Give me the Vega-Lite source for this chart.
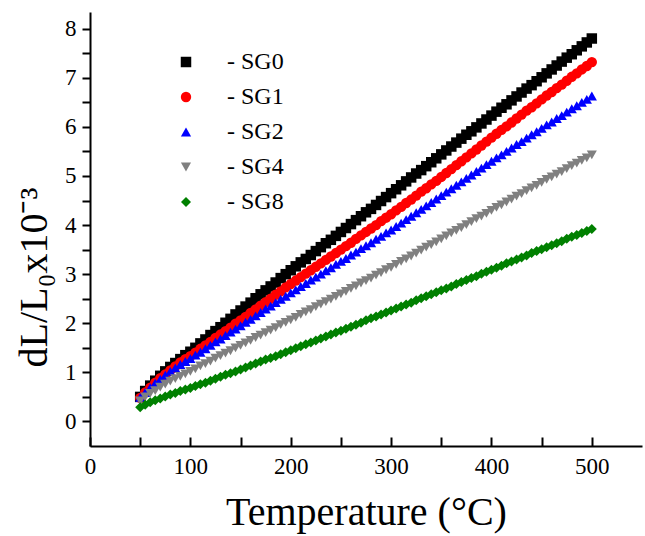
{
  "$schema": "https://vega.github.io/schema/vega-lite/v6.json",
  "width": 552,
  "height": 434,
  "autosize": "none",
  "padding": {"left": 90, "top": 12, "right": 3, "bottom": 90},
  "background": "white",
  "config": {
    "font": "Times New Roman",
    "view": {"stroke": null},
    "axis": {
      "labelFont": "Times New Roman",
      "titleFont": "Times New Roman",
      "labelColor": "black",
      "titleColor": "black",
      "domainColor": "black",
      "tickColor": "black",
      "labelFontSize": 23,
      "titleFontSize": 40,
      "titleFontWeight": "normal",
      "domainWidth": 2,
      "tickWidth": 2,
      "grid": false
    },
    "legend": {"labelFont": "Times New Roman"}
  },
  "data": {
    "values": [
      {"series":"SG0","T":50,"v":0.50},{"series":"SG0","T":55,"v":0.62},{"series":"SG0","T":60,"v":0.73},{"series":"SG0","T":65,"v":0.83},{"series":"SG0","T":70,"v":0.93},{"series":"SG0","T":75,"v":1.02},{"series":"SG0","T":80,"v":1.11},{"series":"SG0","T":85,"v":1.19},{"series":"SG0","T":90,"v":1.27},{"series":"SG0","T":95,"v":1.35},{"series":"SG0","T":100,"v":1.42},
      {"series":"SG0","T":105,"v":1.50},{"series":"SG0","T":110,"v":1.59},{"series":"SG0","T":115,"v":1.67},{"series":"SG0","T":120,"v":1.76},{"series":"SG0","T":125,"v":1.84},{"series":"SG0","T":130,"v":1.92},{"series":"SG0","T":135,"v":2.01},{"series":"SG0","T":140,"v":2.09},{"series":"SG0","T":145,"v":2.18},{"series":"SG0","T":150,"v":2.26},
      {"series":"SG0","T":155,"v":2.34},{"series":"SG0","T":160,"v":2.42},{"series":"SG0","T":165,"v":2.51},{"series":"SG0","T":170,"v":2.59},{"series":"SG0","T":175,"v":2.67},{"series":"SG0","T":180,"v":2.75},{"series":"SG0","T":185,"v":2.83},{"series":"SG0","T":190,"v":2.92},{"series":"SG0","T":195,"v":3.00},{"series":"SG0","T":200,"v":3.08},
      {"series":"SG0","T":205,"v":3.16},{"series":"SG0","T":210,"v":3.24},{"series":"SG0","T":215,"v":3.31},{"series":"SG0","T":220,"v":3.39},{"series":"SG0","T":225,"v":3.47},{"series":"SG0","T":230,"v":3.55},{"series":"SG0","T":235,"v":3.63},{"series":"SG0","T":240,"v":3.70},{"series":"SG0","T":245,"v":3.78},{"series":"SG0","T":250,"v":3.86},
      {"series":"SG0","T":255,"v":3.94},{"series":"SG0","T":260,"v":4.02},{"series":"SG0","T":265,"v":4.10},{"series":"SG0","T":270,"v":4.18},{"series":"SG0","T":275,"v":4.26},{"series":"SG0","T":280,"v":4.33},{"series":"SG0","T":285,"v":4.41},{"series":"SG0","T":290,"v":4.49},{"series":"SG0","T":295,"v":4.57},{"series":"SG0","T":300,"v":4.65},
      {"series":"SG0","T":305,"v":4.73},{"series":"SG0","T":310,"v":4.81},{"series":"SG0","T":315,"v":4.89},{"series":"SG0","T":320,"v":4.97},{"series":"SG0","T":325,"v":5.05},{"series":"SG0","T":330,"v":5.12},{"series":"SG0","T":335,"v":5.20},{"series":"SG0","T":340,"v":5.28},{"series":"SG0","T":345,"v":5.36},{"series":"SG0","T":350,"v":5.44},
      {"series":"SG0","T":355,"v":5.52},{"series":"SG0","T":360,"v":5.60},{"series":"SG0","T":365,"v":5.68},{"series":"SG0","T":370,"v":5.76},{"series":"SG0","T":375,"v":5.84},{"series":"SG0","T":380,"v":5.91},{"series":"SG0","T":385,"v":5.99},{"series":"SG0","T":390,"v":6.07},{"series":"SG0","T":395,"v":6.15},{"series":"SG0","T":400,"v":6.23},
      {"series":"SG0","T":405,"v":6.31},{"series":"SG0","T":410,"v":6.39},{"series":"SG0","T":415,"v":6.46},{"series":"SG0","T":420,"v":6.54},{"series":"SG0","T":425,"v":6.62},{"series":"SG0","T":430,"v":6.70},{"series":"SG0","T":435,"v":6.78},{"series":"SG0","T":440,"v":6.85},{"series":"SG0","T":445,"v":6.93},{"series":"SG0","T":450,"v":7.01},
      {"series":"SG0","T":455,"v":7.09},{"series":"SG0","T":460,"v":7.17},{"series":"SG0","T":465,"v":7.25},{"series":"SG0","T":470,"v":7.33},{"series":"SG0","T":475,"v":7.41},{"series":"SG0","T":480,"v":7.48},{"series":"SG0","T":485,"v":7.56},{"series":"SG0","T":490,"v":7.64},{"series":"SG0","T":495,"v":7.72},{"series":"SG0","T":500,"v":7.80},

      {"series":"SG1","T":50,"v":0.48},{"series":"SG1","T":55,"v":0.59},{"series":"SG1","T":60,"v":0.69},{"series":"SG1","T":65,"v":0.79},{"series":"SG1","T":70,"v":0.88},{"series":"SG1","T":75,"v":0.96},{"series":"SG1","T":80,"v":1.04},{"series":"SG1","T":85,"v":1.12},{"series":"SG1","T":90,"v":1.20},{"series":"SG1","T":95,"v":1.27},{"series":"SG1","T":100,"v":1.33},
      {"series":"SG1","T":105,"v":1.40},{"series":"SG1","T":110,"v":1.48},{"series":"SG1","T":115,"v":1.55},{"series":"SG1","T":120,"v":1.62},{"series":"SG1","T":125,"v":1.70},{"series":"SG1","T":130,"v":1.77},{"series":"SG1","T":135,"v":1.84},{"series":"SG1","T":140,"v":1.91},{"series":"SG1","T":145,"v":1.99},{"series":"SG1","T":150,"v":2.06},
      {"series":"SG1","T":155,"v":2.13},{"series":"SG1","T":160,"v":2.21},{"series":"SG1","T":165,"v":2.28},{"series":"SG1","T":170,"v":2.36},{"series":"SG1","T":175,"v":2.43},{"series":"SG1","T":180,"v":2.50},{"series":"SG1","T":185,"v":2.58},{"series":"SG1","T":190,"v":2.65},{"series":"SG1","T":195,"v":2.73},{"series":"SG1","T":200,"v":2.80},
      {"series":"SG1","T":205,"v":2.87},{"series":"SG1","T":210,"v":2.94},{"series":"SG1","T":215,"v":3.01},{"series":"SG1","T":220,"v":3.08},{"series":"SG1","T":225,"v":3.15},{"series":"SG1","T":230,"v":3.22},{"series":"SG1","T":235,"v":3.29},{"series":"SG1","T":240,"v":3.36},{"series":"SG1","T":245,"v":3.43},{"series":"SG1","T":250,"v":3.50},
      {"series":"SG1","T":255,"v":3.57},{"series":"SG1","T":260,"v":3.64},{"series":"SG1","T":265,"v":3.72},{"series":"SG1","T":270,"v":3.79},{"series":"SG1","T":275,"v":3.86},{"series":"SG1","T":280,"v":3.93},{"series":"SG1","T":285,"v":4.00},{"series":"SG1","T":290,"v":4.08},{"series":"SG1","T":295,"v":4.15},{"series":"SG1","T":300,"v":4.22},
      {"series":"SG1","T":305,"v":4.30},{"series":"SG1","T":310,"v":4.37},{"series":"SG1","T":315,"v":4.45},{"series":"SG1","T":320,"v":4.52},{"series":"SG1","T":325,"v":4.60},{"series":"SG1","T":330,"v":4.68},{"series":"SG1","T":335,"v":4.75},{"series":"SG1","T":340,"v":4.83},{"series":"SG1","T":345,"v":4.90},{"series":"SG1","T":350,"v":4.98},
      {"series":"SG1","T":355,"v":5.06},{"series":"SG1","T":360,"v":5.14},{"series":"SG1","T":365,"v":5.22},{"series":"SG1","T":370,"v":5.30},{"series":"SG1","T":375,"v":5.38},{"series":"SG1","T":380,"v":5.46},{"series":"SG1","T":385,"v":5.54},{"series":"SG1","T":390,"v":5.62},{"series":"SG1","T":395,"v":5.70},{"series":"SG1","T":400,"v":5.78},
      {"series":"SG1","T":405,"v":5.86},{"series":"SG1","T":410,"v":5.94},{"series":"SG1","T":415,"v":6.01},{"series":"SG1","T":420,"v":6.09},{"series":"SG1","T":425,"v":6.17},{"series":"SG1","T":430,"v":6.25},{"series":"SG1","T":435,"v":6.33},{"series":"SG1","T":440,"v":6.40},{"series":"SG1","T":445,"v":6.48},{"series":"SG1","T":450,"v":6.56},
      {"series":"SG1","T":455,"v":6.64},{"series":"SG1","T":460,"v":6.71},{"series":"SG1","T":465,"v":6.79},{"series":"SG1","T":470,"v":6.86},{"series":"SG1","T":475,"v":6.94},{"series":"SG1","T":480,"v":7.02},{"series":"SG1","T":485,"v":7.09},{"series":"SG1","T":490,"v":7.17},{"series":"SG1","T":495,"v":7.24},{"series":"SG1","T":500,"v":7.32},

      {"series":"SG2","T":50,"v":0.49},{"series":"SG2","T":55,"v":0.59},{"series":"SG2","T":60,"v":0.69},{"series":"SG2","T":65,"v":0.78},{"series":"SG2","T":70,"v":0.86},{"series":"SG2","T":75,"v":0.94},{"series":"SG2","T":80,"v":1.02},{"series":"SG2","T":85,"v":1.09},{"series":"SG2","T":90,"v":1.16},{"series":"SG2","T":95,"v":1.22},{"series":"SG2","T":100,"v":1.28},
      {"series":"SG2","T":105,"v":1.35},{"series":"SG2","T":110,"v":1.41},{"series":"SG2","T":115,"v":1.48},{"series":"SG2","T":120,"v":1.55},{"series":"SG2","T":125,"v":1.62},{"series":"SG2","T":130,"v":1.68},{"series":"SG2","T":135,"v":1.75},{"series":"SG2","T":140,"v":1.82},{"series":"SG2","T":145,"v":1.88},{"series":"SG2","T":150,"v":1.95},
      {"series":"SG2","T":155,"v":2.02},{"series":"SG2","T":160,"v":2.08},{"series":"SG2","T":165,"v":2.15},{"series":"SG2","T":170,"v":2.22},{"series":"SG2","T":175,"v":2.29},{"series":"SG2","T":180,"v":2.35},{"series":"SG2","T":185,"v":2.42},{"series":"SG2","T":190,"v":2.49},{"series":"SG2","T":195,"v":2.55},{"series":"SG2","T":200,"v":2.62},
      {"series":"SG2","T":205,"v":2.68},{"series":"SG2","T":210,"v":2.75},{"series":"SG2","T":215,"v":2.81},{"series":"SG2","T":220,"v":2.88},{"series":"SG2","T":225,"v":2.94},{"series":"SG2","T":230,"v":3.00},{"series":"SG2","T":235,"v":3.07},{"series":"SG2","T":240,"v":3.13},{"series":"SG2","T":245,"v":3.20},{"series":"SG2","T":250,"v":3.26},
      {"series":"SG2","T":255,"v":3.32},{"series":"SG2","T":260,"v":3.39},{"series":"SG2","T":265,"v":3.45},{"series":"SG2","T":270,"v":3.52},{"series":"SG2","T":275,"v":3.58},{"series":"SG2","T":280,"v":3.64},{"series":"SG2","T":285,"v":3.71},{"series":"SG2","T":290,"v":3.77},{"series":"SG2","T":295,"v":3.84},{"series":"SG2","T":300,"v":3.90},
      {"series":"SG2","T":305,"v":3.97},{"series":"SG2","T":310,"v":4.04},{"series":"SG2","T":315,"v":4.11},{"series":"SG2","T":320,"v":4.18},{"series":"SG2","T":325,"v":4.25},{"series":"SG2","T":330,"v":4.32},{"series":"SG2","T":335,"v":4.39},{"series":"SG2","T":340,"v":4.46},{"series":"SG2","T":345,"v":4.53},{"series":"SG2","T":350,"v":4.60},
      {"series":"SG2","T":355,"v":4.67},{"series":"SG2","T":360,"v":4.74},{"series":"SG2","T":365,"v":4.81},{"series":"SG2","T":370,"v":4.88},{"series":"SG2","T":375,"v":4.95},{"series":"SG2","T":380,"v":5.02},{"series":"SG2","T":385,"v":5.09},{"series":"SG2","T":390,"v":5.16},{"series":"SG2","T":395,"v":5.23},{"series":"SG2","T":400,"v":5.30},
      {"series":"SG2","T":405,"v":5.37},{"series":"SG2","T":410,"v":5.43},{"series":"SG2","T":415,"v":5.50},{"series":"SG2","T":420,"v":5.57},{"series":"SG2","T":425,"v":5.64},{"series":"SG2","T":430,"v":5.70},{"series":"SG2","T":435,"v":5.77},{"series":"SG2","T":440,"v":5.84},{"series":"SG2","T":445,"v":5.90},{"series":"SG2","T":450,"v":5.97},
      {"series":"SG2","T":455,"v":6.04},{"series":"SG2","T":460,"v":6.10},{"series":"SG2","T":465,"v":6.17},{"series":"SG2","T":470,"v":6.23},{"series":"SG2","T":475,"v":6.30},{"series":"SG2","T":480,"v":6.37},{"series":"SG2","T":485,"v":6.43},{"series":"SG2","T":490,"v":6.50},{"series":"SG2","T":495,"v":6.56},{"series":"SG2","T":500,"v":6.63},

      {"series":"SG4","T":50,"v":0.42},{"series":"SG4","T":55,"v":0.50},{"series":"SG4","T":60,"v":0.57},{"series":"SG4","T":65,"v":0.63},{"series":"SG4","T":70,"v":0.70},{"series":"SG4","T":75,"v":0.76},{"series":"SG4","T":80,"v":0.82},{"series":"SG4","T":85,"v":0.87},{"series":"SG4","T":90,"v":0.92},{"series":"SG4","T":95,"v":0.97},{"series":"SG4","T":100,"v":1.02},
      {"series":"SG4","T":105,"v":1.07},{"series":"SG4","T":110,"v":1.13},{"series":"SG4","T":115,"v":1.18},{"series":"SG4","T":120,"v":1.23},{"series":"SG4","T":125,"v":1.29},{"series":"SG4","T":130,"v":1.34},{"series":"SG4","T":135,"v":1.39},{"series":"SG4","T":140,"v":1.44},{"series":"SG4","T":145,"v":1.50},{"series":"SG4","T":150,"v":1.55},
      {"series":"SG4","T":155,"v":1.60},{"series":"SG4","T":160,"v":1.65},{"series":"SG4","T":165,"v":1.71},{"series":"SG4","T":170,"v":1.76},{"series":"SG4","T":175,"v":1.81},{"series":"SG4","T":180,"v":1.86},{"series":"SG4","T":185,"v":1.91},{"series":"SG4","T":190,"v":1.97},{"series":"SG4","T":195,"v":2.02},{"series":"SG4","T":200,"v":2.07},
      {"series":"SG4","T":205,"v":2.12},{"series":"SG4","T":210,"v":2.18},{"series":"SG4","T":215,"v":2.23},{"series":"SG4","T":220,"v":2.28},{"series":"SG4","T":225,"v":2.34},{"series":"SG4","T":230,"v":2.39},{"series":"SG4","T":235,"v":2.44},{"series":"SG4","T":240,"v":2.49},{"series":"SG4","T":245,"v":2.55},{"series":"SG4","T":250,"v":2.60},
      {"series":"SG4","T":255,"v":2.65},{"series":"SG4","T":260,"v":2.71},{"series":"SG4","T":265,"v":2.76},{"series":"SG4","T":270,"v":2.82},{"series":"SG4","T":275,"v":2.87},{"series":"SG4","T":280,"v":2.92},{"series":"SG4","T":285,"v":2.98},{"series":"SG4","T":290,"v":3.03},{"series":"SG4","T":295,"v":3.09},{"series":"SG4","T":300,"v":3.14},
      {"series":"SG4","T":305,"v":3.20},{"series":"SG4","T":310,"v":3.26},{"series":"SG4","T":315,"v":3.31},{"series":"SG4","T":320,"v":3.37},{"series":"SG4","T":325,"v":3.43},{"series":"SG4","T":330,"v":3.49},{"series":"SG4","T":335,"v":3.55},{"series":"SG4","T":340,"v":3.60},{"series":"SG4","T":345,"v":3.66},{"series":"SG4","T":350,"v":3.72},
      {"series":"SG4","T":355,"v":3.78},{"series":"SG4","T":360,"v":3.84},{"series":"SG4","T":365,"v":3.89},{"series":"SG4","T":370,"v":3.95},{"series":"SG4","T":375,"v":4.01},{"series":"SG4","T":380,"v":4.07},{"series":"SG4","T":385,"v":4.13},{"series":"SG4","T":390,"v":4.18},{"series":"SG4","T":395,"v":4.24},{"series":"SG4","T":400,"v":4.30},
      {"series":"SG4","T":405,"v":4.36},{"series":"SG4","T":410,"v":4.41},{"series":"SG4","T":415,"v":4.47},{"series":"SG4","T":420,"v":4.53},{"series":"SG4","T":425,"v":4.59},{"series":"SG4","T":430,"v":4.64},{"series":"SG4","T":435,"v":4.70},{"series":"SG4","T":440,"v":4.76},{"series":"SG4","T":445,"v":4.81},{"series":"SG4","T":450,"v":4.87},
      {"series":"SG4","T":455,"v":4.93},{"series":"SG4","T":460,"v":4.98},{"series":"SG4","T":465,"v":5.04},{"series":"SG4","T":470,"v":5.09},{"series":"SG4","T":475,"v":5.15},{"series":"SG4","T":480,"v":5.21},{"series":"SG4","T":485,"v":5.26},{"series":"SG4","T":490,"v":5.32},{"series":"SG4","T":495,"v":5.37},{"series":"SG4","T":500,"v":5.43},

      {"series":"SG8","T":50,"v":0.29},{"series":"SG8","T":55,"v":0.34},{"series":"SG8","T":60,"v":0.39},{"series":"SG8","T":65,"v":0.43},{"series":"SG8","T":70,"v":0.47},{"series":"SG8","T":75,"v":0.51},{"series":"SG8","T":80,"v":0.55},{"series":"SG8","T":85,"v":0.58},{"series":"SG8","T":90,"v":0.62},{"series":"SG8","T":95,"v":0.65},{"series":"SG8","T":100,"v":0.68},
      {"series":"SG8","T":105,"v":0.72},{"series":"SG8","T":110,"v":0.76},{"series":"SG8","T":115,"v":0.79},{"series":"SG8","T":120,"v":0.83},{"series":"SG8","T":125,"v":0.87},{"series":"SG8","T":130,"v":0.91},{"series":"SG8","T":135,"v":0.95},{"series":"SG8","T":140,"v":0.98},{"series":"SG8","T":145,"v":1.02},{"series":"SG8","T":150,"v":1.06},
      {"series":"SG8","T":155,"v":1.10},{"series":"SG8","T":160,"v":1.14},{"series":"SG8","T":165,"v":1.18},{"series":"SG8","T":170,"v":1.22},{"series":"SG8","T":175,"v":1.26},{"series":"SG8","T":180,"v":1.29},{"series":"SG8","T":185,"v":1.33},{"series":"SG8","T":190,"v":1.37},{"series":"SG8","T":195,"v":1.41},{"series":"SG8","T":200,"v":1.45},
      {"series":"SG8","T":205,"v":1.49},{"series":"SG8","T":210,"v":1.53},{"series":"SG8","T":215,"v":1.57},{"series":"SG8","T":220,"v":1.61},{"series":"SG8","T":225,"v":1.65},{"series":"SG8","T":230,"v":1.69},{"series":"SG8","T":235,"v":1.73},{"series":"SG8","T":240,"v":1.77},{"series":"SG8","T":245,"v":1.81},{"series":"SG8","T":250,"v":1.85},
      {"series":"SG8","T":255,"v":1.89},{"series":"SG8","T":260,"v":1.93},{"series":"SG8","T":265,"v":1.97},{"series":"SG8","T":270,"v":2.01},{"series":"SG8","T":275,"v":2.06},{"series":"SG8","T":280,"v":2.10},{"series":"SG8","T":285,"v":2.14},{"series":"SG8","T":290,"v":2.18},{"series":"SG8","T":295,"v":2.22},{"series":"SG8","T":300,"v":2.26},
      {"series":"SG8","T":305,"v":2.30},{"series":"SG8","T":310,"v":2.34},{"series":"SG8","T":315,"v":2.38},{"series":"SG8","T":320,"v":2.42},{"series":"SG8","T":325,"v":2.47},{"series":"SG8","T":330,"v":2.51},{"series":"SG8","T":335,"v":2.55},{"series":"SG8","T":340,"v":2.59},{"series":"SG8","T":345,"v":2.63},{"series":"SG8","T":350,"v":2.67},
      {"series":"SG8","T":355,"v":2.71},{"series":"SG8","T":360,"v":2.75},{"series":"SG8","T":365,"v":2.80},{"series":"SG8","T":370,"v":2.84},{"series":"SG8","T":375,"v":2.88},{"series":"SG8","T":380,"v":2.92},{"series":"SG8","T":385,"v":2.96},{"series":"SG8","T":390,"v":3.01},{"series":"SG8","T":395,"v":3.05},{"series":"SG8","T":400,"v":3.09},
      {"series":"SG8","T":405,"v":3.13},{"series":"SG8","T":410,"v":3.17},{"series":"SG8","T":415,"v":3.22},{"series":"SG8","T":420,"v":3.26},{"series":"SG8","T":425,"v":3.30},{"series":"SG8","T":430,"v":3.34},{"series":"SG8","T":435,"v":3.38},{"series":"SG8","T":440,"v":3.43},{"series":"SG8","T":445,"v":3.47},{"series":"SG8","T":450,"v":3.51},
      {"series":"SG8","T":455,"v":3.55},{"series":"SG8","T":460,"v":3.59},{"series":"SG8","T":465,"v":3.63},{"series":"SG8","T":470,"v":3.67},{"series":"SG8","T":475,"v":3.72},{"series":"SG8","T":480,"v":3.76},{"series":"SG8","T":485,"v":3.80},{"series":"SG8","T":490,"v":3.84},{"series":"SG8","T":495,"v":3.88},{"series":"SG8","T":500,"v":3.92}
    ]
  },
  "mark": {"type": "point", "filled": true, "opacity": 1, "strokeWidth": 0},
  "encoding": {
    "x": {
      "field": "T",
      "type": "quantitative",
      "scale": {"domain": [0, 550], "nice": false, "zero": false},
      "axis": {
        "title": "Temperature (°C)",
        "values": [0, 50, 100, 150, 200, 250, 300, 350, 400, 450, 500],
        "labelExpr": "datum.value % 100 === 0 ? format(datum.value, 'd') : ''",
        "labelFont": "Times New Roman",
        "titleFont": "Times New Roman",
        "tickSize": -9,
        "labelPadding": 18,
        "titlePadding": 14,
        "labelFlush": false,
        "labelOverlap": false,
        "encode": {
          "ticks": {"update": {"y2": {"signal": "datum.value % 100 === 0 ? -9 : -5"}}}
        }
      }
    },
    "y": {
      "field": "v",
      "type": "quantitative",
      "scale": {"domain": [-0.5, 8.34], "nice": false, "zero": false},
      "axis": {
        "title": "dL/L₀x10⁻³",
        "values": [0, 0.5, 1, 1.5, 2, 2.5, 3, 3.5, 4, 4.5, 5, 5.5, 6, 6.5, 7, 7.5, 8],
        "labelExpr": "datum.value % 1 === 0 ? format(datum.value, 'd') : ''",
        "labelFont": "Times New Roman",
        "titleFont": "Times New Roman",
        "tickSize": 8,
        "labelPadding": 6,
        "titlePadding": 10,
        "titleY": 265,
        "labelFlush": false,
        "labelOverlap": false,
        "encode": {
          "ticks": {"update": {"x2": {"signal": "datum.value % 1 === 0 ? -8 : -5"}}}
        }
      }
    },
    "color": {
      "field": "series",
      "type": "nominal",
      "scale": {
        "domain": ["SG0", "SG1", "SG2", "SG4", "SG8"],
        "range": ["#000000", "#ff0000", "#0000ff", "#808080", "#008000"]
      },
      "legend": {
        "title": null,
        "orient": "none",
        "legendX": 84,
        "legendY": 38,
        "padding": 0,
        "labelFont": "Times New Roman",
        "labelFontSize": 24,
        "labelColor": "black",
        "labelExpr": "'- ' + datum.label",
        "labelOffset": 29,
        "rowPadding": 11,
        "symbolStrokeWidth": 0
      }
    },
    "shape": {
      "field": "series",
      "type": "nominal",
      "scale": {
        "domain": ["SG0", "SG1", "SG2", "SG4", "SG8"],
        "range": ["square", "circle", "triangle-up", "triangle-down", "diamond"]
      },
      "legend": {
        "title": null,
        "orient": "none",
        "legendX": 84,
        "legendY": 38,
        "padding": 0,
        "labelFont": "Times New Roman",
        "labelFontSize": 24,
        "labelColor": "black",
        "labelExpr": "'- ' + datum.label",
        "labelOffset": 29,
        "rowPadding": 11,
        "symbolStrokeWidth": 0
      }
    },
    "size": {
      "field": "series",
      "type": "nominal",
      "scale": {
        "domain": ["SG0", "SG1", "SG2", "SG4", "SG8"],
        "range": [110, 100, 160, 150, 125]
      },
      "legend": {
        "title": null,
        "orient": "none",
        "legendX": 84,
        "legendY": 38,
        "padding": 0,
        "labelFont": "Times New Roman",
        "labelFontSize": 24,
        "labelColor": "black",
        "labelExpr": "'- ' + datum.label",
        "labelOffset": 29,
        "rowPadding": 11,
        "symbolStrokeWidth": 0
      }
    }
  }
}
